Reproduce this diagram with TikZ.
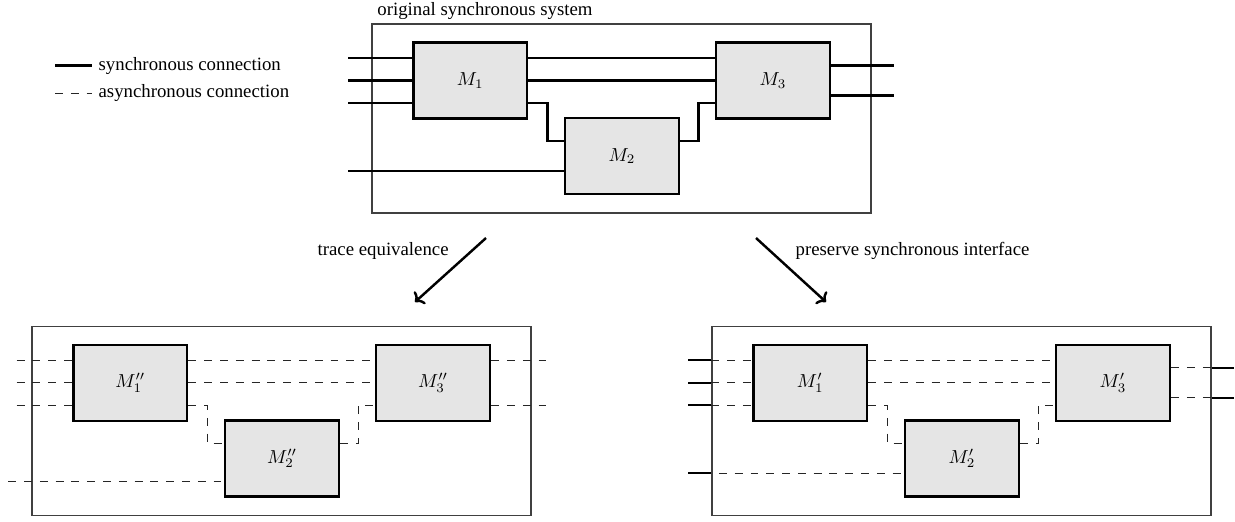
\documentclass[tikz,border=0pt]{standalone}
\usepackage[no-math]{fontspec}
\setmainfont{Liberation Serif}
\usetikzlibrary{positioning,arrows.meta}

\begin{document}
\begin{tikzpicture}[x=0.532pt, y=-0.532pt,
    module/.style={draw, line width=1.3pt, fill=black!10, minimum width=60.6pt, minimum height=40.4pt, inner sep=0pt},
    frame/.style={draw=black!75, line width=0.6pt, minimum width=265.5pt, minimum height=100.5pt, inner sep=0pt},
    sync/.style={line width=1.1pt},
    async/.style={line width=0.65pt, black!85, dash pattern=on 4.2pt off 4.2pt},
    map/.style={-{To[length=4pt,width=9pt]}, line width=1.3pt}]
                \useasboundingbox (0,0) rectangle (1235,521);

                % Legend
                \coordinate (ls0) at (55,65.5);
                \coordinate (ls1) at (92,65.5);
                \coordinate (la0) at (55,93.3);
                \coordinate (la1) at (92,93.3);
                \draw[sync] (ls0) -- (ls1);
                \draw[async] (la0) -- (la1);
                \node[right] (lsync) at (ls1) {synchronous connection};
                \node[right] (lasync) at (la1) {asynchronous connection};

                % Original synchronous system
                \node[frame] (top) at (621.5,118.5) {};
                \node[anchor=south west, inner sep=2pt, xshift=1pt] (title) at (top.north west) {original synchronous system};
                \node[module] (m1) at (470.3,80.5) {$M_1$};
                \node[module] (m2) at (622,156) {$M_2$};
                \node[module] (m3) at (773,80.5) {$M_3$};
                \foreach \y [count=\i] in {58,80.5,103,171} {
                    \coordinate (in\i) at (348,\y);
                }
                \coordinate (out1) at (894,65.5);
                \coordinate (out2) at (894,95.5);
                \draw[sync] (in1) -- (in1 -| m1.west);
                \draw[sync] (in2) -- (in2 -| m1.west);
                \draw[sync] (in3) -- (in3 -| m1.west);
                \draw[sync] (in4) -- (in4 -| m2.west);
                \draw[sync] (in1 -| m1.east) -- (in1 -| m3.west);
                \draw[sync] (in2 -| m1.east) -- (in2 -| m3.west);
                \draw[sync] (in3 -| m1.east) -- ++(19,0) |- ([yshift=8pt]m2.west);
                \draw[sync] ([yshift=8pt]m2.east) -- ++(18.3,0) |- (in3 -| m3.west);
                \draw[sync] (out1 -| m3.east) -- (out1);
                \draw[sync] (out2 -| m3.east) -- (out2);

                % Arrows
                \coordinate (te0) at (486,238);
                \coordinate (te1) at (415,302);
                \coordinate (ps0) at (756,238);
                \coordinate (ps1) at (826,302);
                \draw[map] (te0) -- (te1);
                \draw[map] (ps0) -- (ps1);
                \node[anchor=west] (telabel) at (311,251) {trace equivalence};
                \node[anchor=west] (pslabel) at (789,251) {preserve synchronous interface};

                % Trace equivalent system (all asynchronous)
                \begin{scope}[shift={(-340,302.3)}]
                    \node[frame] (tel) at (621.5,118.5) {};
                    \node[module] (tm1) at (470.3,80.5) {$M_1''$};
                    \node[module] (tm2) at (622,156) {$M_2''$};
                    \node[module] (tm3) at (773,80.5) {$M_3''$};
                    \coordinate (tin1) at (356.7,58);
                    \coordinate (tin2) at (356.7,80.5);
                    \coordinate (tin3) at (356.7,103);
                    \coordinate (tin4) at (348.3,179);
                    \coordinate (tout1) at (886.7,58);
                    \coordinate (tout2) at (886.7,103);
                    \draw[async] (tin1) -- (tin1 -| tm1.west);
                    \draw[async] (tin2) -- (tin2 -| tm1.west);
                    \draw[async] (tin3) -- (tin3 -| tm1.west);
                    \draw[async] (tin4) -- (tin4 -| tm2.west);
                    \draw[async] (tin1 -| tm1.east) -- (tin1 -| tm3.west);
                    \draw[async] (tin2 -| tm1.east) -- (tin2 -| tm3.west);
                    \draw[async] (tin3 -| tm1.east) -- ++(19,0) |- ([yshift=8pt]tm2.west);
                    \draw[async] ([yshift=8pt]tm2.east) -- ++(18.3,0) |- (tin3 -| tm3.west);
                    \draw[async] (tout1 -| tm3.east) -- (tout1);
                    \draw[async] (tout2 -| tm3.east) -- (tout2);
                \end{scope}

                % System with preserved synchronous interface
                \begin{scope}[shift={(340,302.3)}]
                    \node[frame] (psi) at (621.5,118.5) {};
                    \node[module] (pm1) at (470.3,80.5) {$M_1'$};
                    \node[module] (pm2) at (622,156) {$M_2'$};
                    \node[module] (pm3) at (773,80.5) {$M_3'$};
                    \foreach \y [count=\i] in {58,80.5,103,171} {
                        \coordinate (pin\i) at (348,\y);
                    }
                    \coordinate (pout1) at (894,65.5);
                    \coordinate (pout2) at (894,95.5);
                    \draw[sync] (pin1) -- (pin1 -| psi.west);
                    \draw[sync] (pin2) -- (pin2 -| psi.west);
                    \draw[sync] (pin3) -- (pin3 -| psi.west);
                    \draw[sync] (pin4) -- (pin4 -| psi.west);
                    \draw[async] (pin1 -| psi.west) -- (pin1 -| pm1.west);
                    \draw[async] (pin2 -| psi.west) -- (pin2 -| pm1.west);
                    \draw[async] (pin3 -| psi.west) -- (pin3 -| pm1.west);
                    \draw[async] ([xshift=4pt]pin4 -| psi.west) -- (pin4 -| pm2.west);
                    \draw[async] (pin1 -| pm1.east) -- (pin1 -| pm3.west);
                    \draw[async] (pin2 -| pm1.east) -- (pin2 -| pm3.west);
                    \draw[async] (pin3 -| pm1.east) -- ++(19,0) |- ([yshift=8pt]pm2.west);
                    \draw[async] ([yshift=8pt]pm2.east) -- ++(18.3,0) |- (pin3 -| pm3.west);
                    \draw[async] (pout1 -| pm3.east) -- (pout1 -| psi.east);
                    \draw[async] (pout2 -| pm3.east) -- (pout2 -| psi.east);
                    \draw[sync] (pout1 -| psi.east) -- (pout1);
                    \draw[sync] (pout2 -| psi.east) -- (pout2);
                \end{scope}
            \end{tikzpicture}
\end{document}
